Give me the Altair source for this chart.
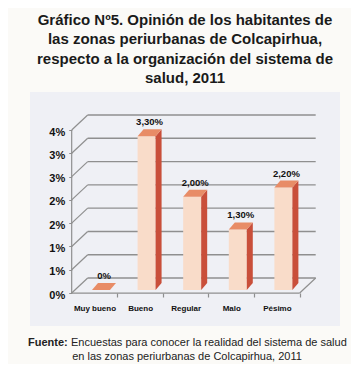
import altair as alt
import pandas as pd

# ---- data ----
categories = ["Muy bueno", "Bueno", "Regular", "Malo", "Pésimo"]
values = [0.0, 3.3, 2.0, 1.3, 2.2]
value_labels = ["0%", "3,30%", "2,00%", "1,30%", "2,20%"]
y_ticks = [0, 0.5, 1.0, 1.5, 2.0, 2.5, 3.0, 3.5]
title_lines = [
    "Gráfico Nº5. Opinión de los habitantes de",
    "las zonas periurbanas de Colcapirhua,",
    "respecto a la organización del sistema de",
    "salud, 2011",
]
source_head = "Fuente:"
source_lines = [
    "Encuestas para conocer la realidad del sistema de salud",
    "en las zonas periurbanas de Colcapirhua, 2011",
]

# ---- layout / style constants ----
W, H = 310, 234
X_DOMAIN = [-1.765, 5.033]
Y_DOMAIN = [-1.03, 3.994]
UX = (X_DOMAIN[1] - X_DOMAIN[0]) / W   # data units per px (x)
UY = (Y_DOMAIN[1] - Y_DOMAIN[0]) / H   # data units per px (y)
WALL_DX, WALL_DY = 16, 15              # front plane vs back wall (px)
BAR_DX, BAR_DY = -9.5, 12              # bar front face vs back wall (px)
BAR_HALF = 9                           # half width of bar face (px)
DEPTH_X, DEPTH_Y = 6, 7                # bar depth (px)
GRID = "#8f8f8f"
FACE = "#f9dcc9"
SIDE = "#c94f3a"
TOP = "#e88c66"
FONT = "Liberation Sans"

xs = alt.Scale(domain=X_DOMAIN, nice=False, zero=False)
ys = alt.Scale(domain=Y_DOMAIN, nice=False, zero=False)
n = len(categories)
left, right = -0.5, n - 0.5

label_expr = "[" + ",".join("'%s'" % c for c in categories) + "][datum.value]"

X_AX = alt.Axis(
    values=list(range(n)), labelExpr=label_expr, title=None, domain=False,
    grid=False, offset=-(H - (278 - 92 + WALL_DY)),
    tickOffset=-WALL_DX + 22.8, labelOffset=-22.8, tickSize=4, tickColor=GRID,
    tickWidth=1.2, labelPadding=11, labelFont=FONT,
    labelFontSize=8, labelFontWeight="bold", labelColor="#111111",
    labelBaseline="middle")
Y_AX = alt.Axis(
    values=y_ticks, labelExpr="round(datum.value) + '%'", title=None,
    domain=False, grid=False, offset=-(80.5 - 0.5 * 45.6 - WALL_DX),
    tickOffset=WALL_DY, labelOffset=2, tickSize=3, tickColor=GRID,
    labelPadding=4, labelFont=FONT, labelFontSize=11, labelFontWeight="bold",
    labelColor="#111111")


def X(f):
    return alt.X(f, scale=xs, axis=X_AX, stack=None, title=None)


def Y(f):
    return alt.Y(f, scale=ys, axis=Y_AX, stack=None, title=None)


# bar geometry tables (in data units, derived from values)
face_rows, side_rows, top_rows, lab_rows = [], [], [], []
for i, (c, v, lab) in enumerate(zip(categories, values, value_labels)):
    x0 = i + (BAR_DX - BAR_HALF) * UX
    x1 = i + (BAR_DX + BAR_HALF) * UX
    yb = -BAR_DY * UY
    yt = v - BAR_DY * UY
    dx, dy = DEPTH_X * UX, DEPTH_Y * UY
    face_rows.append(dict(cat=c, x0=x0, x1=x1, y0=yb, y1=yt))
    side_rows.append(dict(cat=c, k=0, x=x1, y=yt, y2=yb))
    side_rows.append(dict(cat=c, k=1, x=x1 + dx, y=yt + dy, y2=yb + dy))
    top_rows.append(dict(cat=c, k=0, y=yt, x=x0, x2=x1))
    top_rows.append(dict(cat=c, k=1, y=yt + dy, x=x0 + dx, x2=x1 + dx))
    lab_rows.append(dict(cat=c, x=(x0 + x1) / 2 + dx / 2, y=yt + dy, label=lab))

grid_df = pd.DataFrame({"t": y_ticks, "l": left, "r": right})
ext_df = pd.DataFrame({"l": [left], "r": [right], "y0": [min(y_ticks)], "y1": [max(y_ticks)]})

# back wall gridlines (also floor back edge)
grid = alt.Chart(grid_df).mark_rule(color=GRID, strokeWidth=1.4).encode(
    x=X("l:Q"), x2="r:Q", y=Y("t:Q")
)
# left wall diagonals
diag = alt.Chart(grid_df).mark_rule(
    color=GRID, strokeWidth=1.2, xOffset=-WALL_DX, yOffset=WALL_DY
).encode(x=X("l:Q"), x2="l:Q", y=Y("t:Q"), y2="t:Q")
# front vertical edge
front_v = alt.Chart(ext_df).mark_rule(
    color=GRID, strokeWidth=1.2, xOffset=-WALL_DX, yOffset=WALL_DY, y2Offset=WALL_DY
).encode(x=X("l:Q"), y=Y("y0:Q"), y2="y1:Q")
# floor front edge
floor_f = alt.Chart(ext_df).mark_rule(
    color=GRID, strokeWidth=1.2, xOffset=-WALL_DX, x2Offset=-WALL_DX, yOffset=WALL_DY
).encode(x=X("l:Q"), x2="r:Q", y=Y("y0:Q"))
# floor right edge
floor_r = alt.Chart(ext_df).mark_rule(
    color=GRID, strokeWidth=1.2, xOffset=-WALL_DX, yOffset=WALL_DY
).encode(x=X("r:Q"), x2="r:Q", y=Y("y0:Q"), y2="y0:Q")

face = alt.Chart(pd.DataFrame(face_rows)).mark_rect(color=FACE).encode(
    x=X("x0:Q"), x2="x1:Q", y=Y("y0:Q"), y2="y1:Q",
)
side = alt.Chart(pd.DataFrame(side_rows)).mark_area(
    color=SIDE, interpolate="linear", orient="vertical", opacity=1
).encode(
    x=X("x:Q"), y=Y("y:Q"), y2="y2:Q", detail="cat:N",
)
top = alt.Chart(pd.DataFrame(top_rows)).mark_area(
    color=TOP, orient="horizontal", interpolate="linear", opacity=1
).encode(
    y=Y("y:Q"), x=X("x:Q"), x2="x2:Q", detail="cat:N",
)
vlab = alt.Chart(pd.DataFrame(lab_rows)).mark_text(
    font=FONT, fontSize=9.5, fontWeight="bold", color="#111111", baseline="bottom", dy=-2
).encode(x=X("x:Q"), y=Y("y:Q"), text="label:N")

foot_df = pd.DataFrame({"a": [0]})
foot1 = alt.Chart(foot_df).mark_text(
    font=FONT, fontSize=11, fontWeight="bold", color="#222222", align="left", baseline="middle"
).encode(x=alt.value(-2), y=alt.value(251), text=alt.value(source_head))
foot2 = alt.Chart(foot_df).mark_text(
    font=FONT, fontSize=11, color="#222222", align="left", baseline="middle"
).encode(x=alt.value(41), y=alt.value(251), text=alt.value(source_lines[0]))
foot3 = alt.Chart(foot_df).mark_text(
    font=FONT, fontSize=11, color="#222222", align="center", baseline="middle"
).encode(x=alt.value(157), y=alt.value(265), text=alt.value(source_lines[1]))

chart = alt.layer(
    grid, diag, front_v, floor_f, floor_r, face, side, top, vlab,
    foot1, foot2, foot3,
).properties(
    width=W, height=H,
    title=alt.TitleParams(
        text=title_lines, font=FONT, fontSize=15, fontWeight="bold", color="#1a1a1a",
        anchor="middle", frame="group", offset=6, lineHeight=19.3,
    ),
    autosize=alt.AutoSizeParams(type="none"),
    padding={"left": 22, "top": 84, "right": 11, "bottom": 38},
    background="#fbfaf7",
).configure_view(fill="#eff0f5", stroke=None)

chart.save("out.html", embed_options={"renderer": "svg", "actions": False})
